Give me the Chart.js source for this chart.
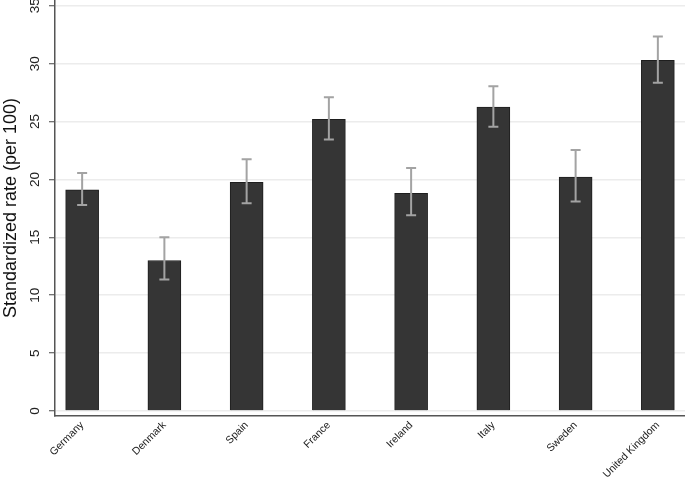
<!DOCTYPE html>
<html>
<head>
<meta charset="utf-8">
<script src="https://cdn.jsdelivr.net/npm/chart.js@4"></script>
<style>
  html, body { margin: 0; padding: 0; background: #fff; }
  #wrap { width: 685px; height: 478px; }
</style>
</head>
<body>
<div id="wrap"><canvas id="myChart" width="685" height="478"></canvas></div>
<script>
// dati
const countries = ["Germany", "Denmark", "Spain", "France", "Ireland", "Italy", "Sweden", "United Kingdom"];
const rates = [19.1, 13.0, 19.75, 25.2, 18.8, 26.25, 20.2, 30.3];
const errLow = [17.8, 11.35, 17.95, 23.45, 16.9, 24.55, 18.1, 28.35];
const errHigh = [20.55, 15.0, 21.75, 27.1, 21.0, 28.05, 22.55, 32.35];
const yTicks = [0, 5, 10, 15, 20, 25, 30, 35];

// barre d'errore disegnate con le scale del grafico
const errorBars = {
  id: "errorBars",
  afterDatasetsDraw(chart) {
    const ctx = chart.ctx;
    const x = chart.scales.x;
    const y = chart.scales.y;
    ctx.save();
    ctx.strokeStyle = "#a3a3a3";
    ctx.lineWidth = 2;
    countries.forEach((c, i) => {
      const px = x.getPixelForValue(i);
      const top = y.getPixelForValue(errHigh[i]);
      const bot = y.getPixelForValue(errLow[i]);
      ctx.beginPath();
      ctx.moveTo(px, top);
      ctx.lineTo(px, bot);
      ctx.moveTo(px - 5, top);
      ctx.lineTo(px + 5, top);
      ctx.moveTo(px - 5, bot);
      ctx.lineTo(px + 5, bot);
      ctx.stroke();
    });
    ctx.restore();
  },
};

// etichette verticali dell'asse y (ruotate come in Stata)
const yLabels = {
  id: "yLabels",
  afterDraw(chart) {
    const ctx = chart.ctx;
    const y = chart.scales.y;
    ctx.save();
    ctx.fillStyle = "#222";
    ctx.font = "13.5px 'Liberation Sans'";
    ctx.textAlign = "center";
    ctx.textBaseline = "middle";
    y.ticks.forEach((t) => {
      ctx.save();
      ctx.translate(y.right - 20, y.getPixelForValue(t.value));
      ctx.rotate(-Math.PI / 2);
      ctx.fillText(String(t.value), 0, 0);
      ctx.restore();
    });
    ctx.restore();
  },
};

const ctx = document.getElementById("myChart");

new Chart(ctx, {
  type: "bar",
  data: {
    datasets: [
      {
        label: "Standardized rate",
        data: rates.map((v, i) => ({ x: i, y: v })),
        backgroundColor: "#353535",
        borderColor: "#1e1e1e",
        borderWidth: 1,
        barThickness: 33,
      },
    ],
  },
  options: {
    responsive: false,
    animation: false,
    layout: { padding: 0 },
    plugins: {
      legend: { display: false },
      tooltip: { enabled: false },
    },
    scales: {
      x: {
        type: "linear",
        offset: false,
        min: -0.33,
        max: 7.33,
        afterBuildTicks: (scale) => {
          scale.ticks = countries.map((c, i) => ({ value: i }));
        },
        afterFit: (scale) => {
          scale.height = 62;
          scale.paddingLeft = 0;
          scale.paddingRight = 0;
        },
        ticks: {
          autoSkip: false,
          minRotation: 45,
          maxRotation: 45,
          padding: 3,
          color: "#222",
          font: { family: "Liberation Sans", size: 10.5 },
          callback: (v) => countries[v],
        },
        grid: { display: false, drawTicks: false, offset: false },
        border: { display: true, color: "#555", width: 1.5 },
      },
      y: {
        min: -0.43,
        max: 35.5,
        afterBuildTicks: (scale) => {
          scale.ticks = yTicks.map((v) => ({ value: v }));
        },
        afterFit: (scale) => {
          scale.width = 55;
          scale.paddingTop = 0;
          scale.paddingBottom = 0;
        },
        ticks: { display: false },
        grid: {
          color: "#ececec",
          lineWidth: 1.5,
          tickColor: "#444",
          tickLength: 6,
          tickWidth: 1,
        },
        border: { display: true, color: "#555", width: 1.5 },
        title: {
          display: true,
          text: "Standardized rate (per 100)",
          color: "#111",
          font: { family: "Liberation Sans", size: 18 },
          padding: { top: 0, bottom: 0 },
        },
      },
    },
  },
  plugins: [errorBars, yLabels],
});
</script>
</body>
</html>
